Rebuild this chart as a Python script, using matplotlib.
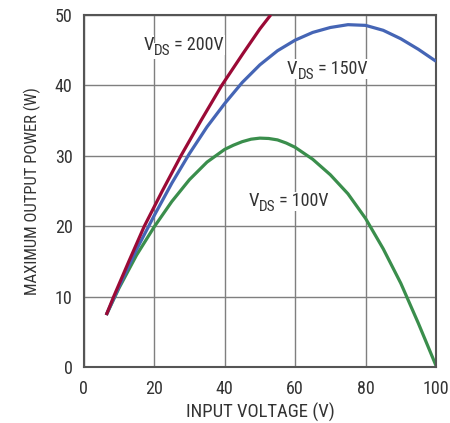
import matplotlib.pyplot as plt
from matplotlib import font_manager
from matplotlib.transforms import offset_copy

# values
x_200 = [6.4, 8.5, 12.8, 17.2, 22.3, 27.6, 33.3, 39.2, 45.2, 50.0, 53.1]
y_200 = [7.4, 10.0, 15.0, 20.0, 25.0, 30.0, 35.0, 40.0, 44.5, 48.0, 50.0]

x_150 = [6.4, 10, 15, 20, 25, 30, 35, 40, 45, 50, 55, 60, 65, 70, 75, 80, 85, 90, 95, 100]
y_150 = [7.4, 11.4, 16.7, 21.5, 26.1, 30.3, 34.1, 37.4, 40.4, 42.9, 44.9, 46.4, 47.5, 48.2,
         48.6, 48.5, 47.8, 46.6, 45.1, 43.4]

x_100 = [6.4, 10, 15, 20, 25, 30, 35, 40, 42.5, 45, 47.5, 50, 52.5, 55, 57.5, 60, 65, 70,
         75, 80, 85, 90, 95, 100]
y_100 = [7.4, 11.2, 15.9, 19.9, 23.5, 26.6, 29.1, 30.9, 31.5, 32.0, 32.35, 32.5, 32.45,
         32.25, 31.8, 31.2, 29.5, 27.3, 24.6, 21.1, 16.8, 11.9, 6.2, 0.2]

xticks = [0, 20, 40, 60, 80, 100]
yticks = [0, 10, 20, 30, 40, 50]

names = {f.name for f in font_manager.fontManager.ttflist}
fam = 'DejaVu Sans'
for f in ['Roboto Condensed', 'Liberation Sans Narrow', 'Liberation Sans']:
    if f in names:
        fam = f
        break
plt.rcParams['font.family'] = fam

fig = plt.figure(figsize=(4.5, 4.23), dpi=100)
ax = fig.add_axes([0.186, 0.132, 0.783, 0.833])

ax.plot(x_200, y_200, color='#9b0a36', lw=2.3, solid_capstyle='butt', zorder=4)
ax.plot(x_150, y_150, color='#4565b5', lw=2.3, solid_capstyle='butt', zorder=3)
ax.plot(x_100, y_100, color='#3a8e4c', lw=2.3, solid_capstyle='butt', zorder=2)

ax.set_xlim(0, 100)
ax.set_ylim(0, 50)

tc = '#333333'
renderer = fig.canvas.get_renderer()


def vds_label(x, y, rest):
    # "V" + lowered "DS" + rest, on white boxes that hide the grid
    box = dict(facecolor='white', edgecolor='none', pad=0.5)
    t1 = ax.text(x, y, 'V', fontsize=13.5, va='baseline', color=tc, bbox=box, zorder=5)
    w1 = t1.get_window_extent(renderer).width * 72 / fig.dpi
    tr2 = offset_copy(ax.transData, fig=fig, x=w1, y=-3.5, units='points')
    t2 = ax.text(x, y, 'DS', transform=tr2, fontsize=11, va='baseline', color=tc,
                 bbox=box, zorder=5)
    w2 = t2.get_window_extent(renderer).width * 72 / fig.dpi
    tr3 = offset_copy(ax.transData, fig=fig, x=w1 + w2, y=0, units='points')
    ax.text(x, y, rest, transform=tr3, fontsize=13, va='baseline', color=tc,
            bbox=box, zorder=4.9)


vds_label(16.9, 45.0, ' = 200V')
vds_label(57.7, 41.6, ' = 150V')
vds_label(46.7, 22.8, ' = 100V')

ax.set_xticks(xticks)
ax.set_yticks(yticks)
ax.tick_params(length=0, labelsize=13, colors=tc)
ax.tick_params(axis='x', pad=9)
ax.tick_params(axis='y', pad=8)
ax.grid(True, color='#7f7f7f', lw=1)
ax.set_axisbelow(True)
for s in ax.spines.values():
    s.set_color('#555555')
    s.set_linewidth(1.5)

ax.set_xlabel('INPUT VOLTAGE (V)', fontsize=13.5, color=tc, labelpad=4)
ax.set_ylabel('MAXIMUM OUTPUT POWER (W)', fontsize=12, color=tc, labelpad=10)

plt.savefig('out.png')
